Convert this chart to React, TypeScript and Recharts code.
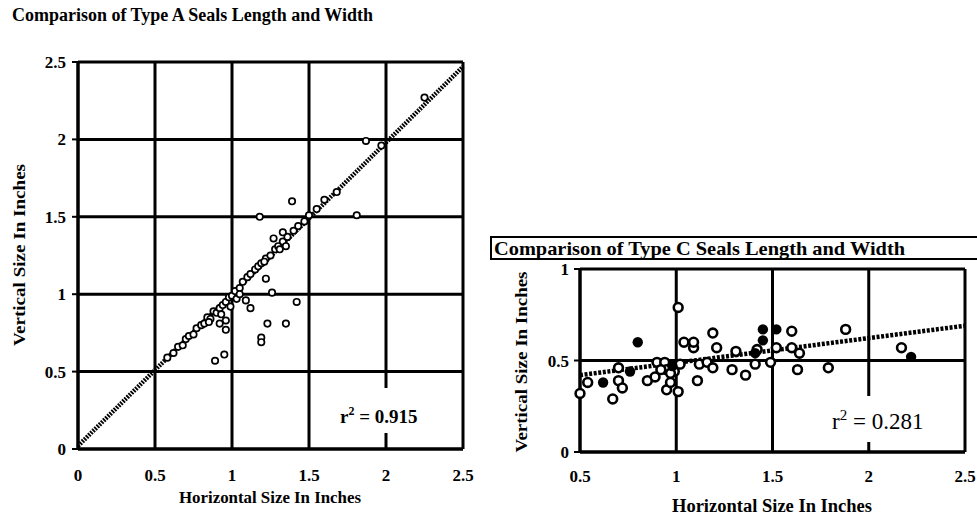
import { CartesianGrid, ReferenceLine, Scatter, ScatterChart, XAxis, YAxis } from "recharts";

// Type A seals: horizontal vs vertical size (inches)
const typeAHoriz = [
  0.58, 0.62, 0.65, 0.68, 0.7, 0.72, 0.75, 0.77, 0.8, 0.82, 0.84, 0.86, 0.88, 0.9, 0.92, 0.94,
  0.96, 0.98, 1.0, 1.02, 1.05, 1.07, 1.1, 1.12, 1.15, 1.17, 1.19, 1.22, 1.25, 1.28, 1.3, 1.33,
  1.36, 1.4, 1.43, 1.47, 1.5, 1.55, 1.6, 1.68, 1.97, 2.25,
  1.87, 1.81, 1.39, 1.18, 1.27, 1.33, 1.42, 1.35, 1.23, 1.19, 1.19, 1.26, 1.12, 1.09, 1.03, 0.99,
  0.96, 0.95, 0.89, 0.96, 0.92, 1.22, 1.21, 1.31, 1.35, 0.85, 0.93, 1.05,
];
const typeAVert = [
  0.59, 0.62, 0.66, 0.67, 0.71, 0.73, 0.74, 0.78, 0.8, 0.81, 0.85, 0.84, 0.89, 0.88, 0.91, 0.93,
  0.95, 0.98, 0.99, 1.02, 1.04, 1.08, 1.11, 1.13, 1.16, 1.18, 1.2, 1.23, 1.25, 1.29, 1.31, 1.34,
  1.37, 1.41, 1.44, 1.47, 1.51, 1.55, 1.61, 1.66, 1.96, 2.27,
  1.99, 1.51, 1.6, 1.5, 1.36, 1.4, 0.95, 0.81, 0.81, 0.72, 0.69, 1.01, 0.91, 0.96, 0.97, 0.92,
  0.77, 0.61, 0.57, 0.83, 0.81, 1.1, 1.21, 1.29, 1.31, 0.82, 0.87, 1.0,
];
const trendAHoriz = [0, 2.5];
const trendAVert = [0.02, 2.47];

// Type C seals
const typeCHoriz = [
  0.5, 0.54, 0.67, 0.7, 0.72, 0.7, 0.85, 0.89, 0.9, 0.94, 0.95, 0.97, 1.01, 1.01, 1.04, 1.09,
  1.09, 1.11, 1.02, 0.99, 0.95, 1.12, 1.16, 1.19, 1.19, 1.21, 1.29, 1.31, 1.36, 1.41, 1.42, 1.49,
  1.6, 1.6, 1.63, 1.64, 1.79, 1.88, 2.17, 1.52, 0.97, 0.92,
];
const typeCVert = [
  0.32, 0.38, 0.29, 0.39, 0.35, 0.46, 0.39, 0.41, 0.49, 0.49, 0.34, 0.38, 0.33, 0.79, 0.6, 0.57,
  0.6, 0.39, 0.48, 0.44, 0.45, 0.48, 0.49, 0.46, 0.65, 0.57, 0.45, 0.55, 0.42, 0.48, 0.56, 0.49,
  0.66, 0.57, 0.45, 0.54, 0.46, 0.67, 0.57, 0.57, 0.43, 0.45,
];
const typeCFilledHoriz = [0.62, 0.76, 0.8, 1.45, 1.45, 1.52, 2.22, 1.41, 0.98];
const typeCFilledVert = [0.38, 0.44, 0.6, 0.67, 0.61, 0.67, 0.52, 0.54, 0.47];
const trendCHoriz = [0.5, 2.5];
const trendCVert = [0.42, 0.69];

const ticksA = [0, 0.5, 1, 1.5, 2, 2.5];
const ticksCX = [0.5, 1, 1.5, 2, 2.5];
const ticksCY = [0, 0.5, 1];

const zip = (xs: number[], ys: number[]) => xs.map((x, i) => ({ x, y: ys[i] }));

const serif = "'Liberation Serif', 'DejaVu Serif', serif";
const tickStyle = { fill: "#000", fontSize: 17, fontWeight: 700, fontFamily: serif };
const fmt = (v: number) => String(v);

const OpenSmall = (p: any) => (
  <circle cx={p.cx} cy={p.cy} r={3.2} fill="#fff" stroke="#000" strokeWidth={1.7} />
);
const OpenBig = (p: any) => (
  <circle cx={p.cx} cy={p.cy} r={4.4} fill="#fff" stroke="#000" strokeWidth={2.6} />
);
const FilledBig = (p: any) => <circle cx={p.cx} cy={p.cy} r={5.2} fill="#000" />;

function TypeAChart() {
  const [a, b] = zip(trendAHoriz, trendAVert);
  return (
    <ScatterChart width={480} height={521} margin={{ top: 62, right: 17, bottom: 42, left: 36 }}>
      <CartesianGrid stroke="#000" strokeWidth={3} />
      <XAxis
        type="number"
        dataKey="x"
        domain={[0, 2.5]}
        ticks={ticksA}
        tickFormatter={fmt}
        height={30}
        axisLine={{ stroke: "#000", strokeWidth: 3 }}
        tickLine={false}
        tickMargin={14}
        tick={tickStyle}
      />
      <YAxis
        type="number"
        dataKey="y"
        domain={[0, 2.5]}
        ticks={ticksA}
        tickFormatter={fmt}
        width={42}
        axisLine={{ stroke: "#000", strokeWidth: 3 }}
        tickLine={{ stroke: "#000", strokeWidth: 2 }}
        tickSize={6}
        tickMargin={6}
        tick={tickStyle}
      />
      <ReferenceLine segment={[a, b]} stroke="#000" strokeWidth={4.5} strokeDasharray="1.8 1.2" />
      <Scatter data={zip(typeAHoriz, typeAVert)} shape={OpenSmall} isAnimationActive={false} />
    </ScatterChart>
  );
}

function TypeCChart() {
  const [a, b] = zip(trendCHoriz, trendCVert);
  return (
    <ScatterChart width={497} height={311} margin={{ top: 59, right: 12, bottom: 41, left: 58 }}>
      <CartesianGrid stroke="#000" strokeWidth={3} />
      <XAxis
        type="number"
        dataKey="x"
        domain={[0.5, 2.5]}
        ticks={ticksCX}
        tickFormatter={fmt}
        height={28}
        axisLine={{ stroke: "#000", strokeWidth: 3 }}
        tickLine={false}
        tickMargin={12}
        tick={tickStyle}
      />
      <YAxis
        type="number"
        dataKey="y"
        domain={[0, 1]}
        ticks={ticksCY}
        tickFormatter={fmt}
        width={42}
        axisLine={{ stroke: "#000", strokeWidth: 3 }}
        tickLine={{ stroke: "#000", strokeWidth: 2 }}
        tickSize={6}
        tickMargin={5}
        tick={tickStyle}
      />
      <ReferenceLine segment={[a, b]} stroke="#000" strokeWidth={4.5} strokeDasharray="3 1.6" />
      <Scatter data={zip(typeCHoriz, typeCVert)} shape={OpenBig} isAnimationActive={false} />
      <Scatter
        data={zip(typeCFilledHoriz, typeCFilledVert)}
        shape={FilledBig}
        isAnimationActive={false}
      />
    </ScatterChart>
  );
}

export default function App() {
  return (
    <div
      style={{
        position: "absolute",
        left: 0,
        top: 0,
        width: 977,
        height: 521,
        background: "#fff",
        overflow: "hidden",
      }}
    >
      <div style={{ position: "absolute", left: 0, top: 0 }}>
        <TypeAChart />
      </div>
      <div style={{ position: "absolute", left: 480, top: 210 }}>
        <TypeCChart />
      </div>
      <svg
        width={977}
        height={521}
        style={{ position: "absolute", left: 0, top: 0, pointerEvents: "none" }}
        fontFamily={serif}
      >
        <text x={12} y={21} fontSize={18} fontWeight={700} textLength={361} lengthAdjust="spacingAndGlyphs">
          Comparison of Type A Seals Length and Width
        </text>
        <text
          x={270}
          y={503}
          fontSize={17}
          fontWeight={700}
          textAnchor="middle"
          textLength={182}
          lengthAdjust="spacingAndGlyphs"
        >
          Horizontal Size In Inches
        </text>
        <text
          x={20}
          y={255}
          fontSize={17}
          fontWeight={700}
          textAnchor="middle"
          textLength={182}
          lengthAdjust="spacingAndGlyphs"
          transform="rotate(-90 20 255)"
          dy={5}
        >
          Vertical Size In Inches
        </text>
        <rect x={335} y={388} width={95} height={45} fill="#fff" />
        <text x={340} y={423} fontSize={19} fontWeight={700}>
          r<tspan dy={-8} fontSize={12}>2</tspan>
          <tspan dy={8}> = 0.915</tspan>
        </text>

        <rect x={491} y={237} width={490} height={22} fill="#fff" stroke="#000" strokeWidth={2} />
        <text
          x={494}
          y={255}
          fontSize={19}
          fontWeight={700}
          textLength={411}
          lengthAdjust="spacingAndGlyphs"
        >
          Comparison of Type C Seals Length and Width
        </text>
        <text
          x={772}
          y={512}
          fontSize={18}
          textAnchor="middle"
          fontWeight={700}
          textLength={200}
          lengthAdjust="spacingAndGlyphs"
        >
          Horizontal Size In Inches
        </text>
        <text
          x={522}
          y={362}
          fontSize={17}
          fontWeight={700}
          textAnchor="middle"
          textLength={181}
          lengthAdjust="spacingAndGlyphs"
          transform="rotate(-90 522 362)"
          dy={5}
        >
          Vertical Size In Inches
        </text>
        <rect x={826} y={396} width={112} height={46} fill="#fff" />
        <text x={832} y={429} fontSize={23}>
          r<tspan dy={-9} fontSize={15}>2</tspan>
          <tspan dy={9}> = 0.281</tspan>
        </text>
      </svg>
    </div>
  );
}
